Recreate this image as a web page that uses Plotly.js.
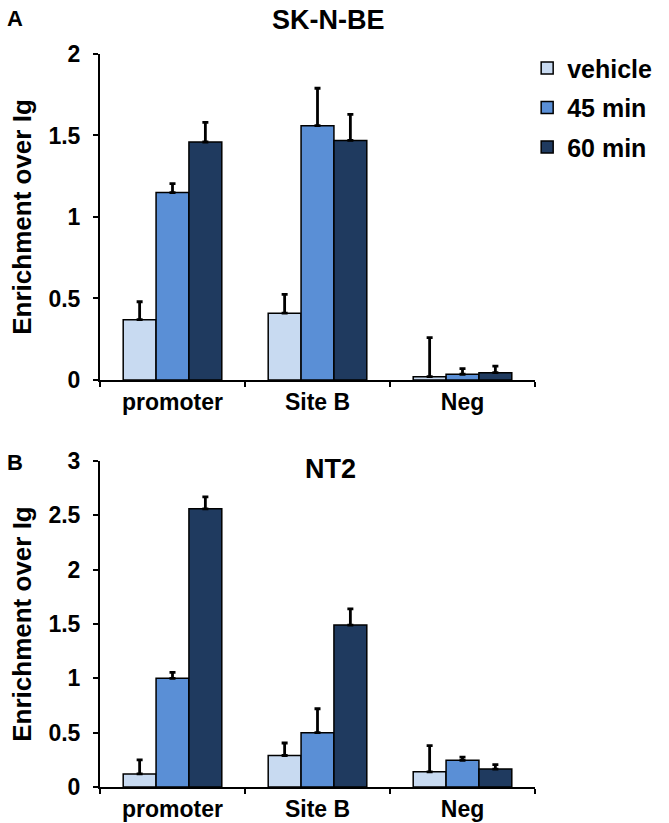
<!DOCTYPE html>
<html>
<head>
<meta charset="utf-8">
<script src="https://cdn.plot.ly/plotly-3.0.1.min.js"></script>
<style>html,body{margin:0;padding:0;background:#fff;}#chart{width:669px;height:823px;}</style>
</head>
<body>
<div id="chart"></div>
<script>
// ---- data ----
const categories = ['promoter', 'Site B', 'Neg'];
const seriesNames = ['vehicle', '45 min', '60 min'];
const seriesColors = ['#c8daf1', '#5a8fd6', '#1f3a5f'];

// Panel A: SK-N-BE
const skVehicle = [0.37, 0.41, 0.02];
const skVehicleErr = [0.11, 0.115, 0.24];
const sk45 = [1.15, 1.56, 0.035];
const sk45Err = [0.055, 0.23, 0.035];
const sk60 = [1.46, 1.47, 0.045];
const sk60Err = [0.12, 0.16, 0.04];

// Panel B: NT2
const ntVehicle = [0.12, 0.29, 0.14];
const ntVehicleErr = [0.13, 0.115, 0.24];
const nt45 = [1.0, 0.5, 0.245];
const nt45Err = [0.055, 0.22, 0.03];
const nt60 = [2.56, 1.49, 0.165];
const nt60Err = [0.11, 0.15, 0.04];

const zeros = [0, 0, 0];
const FONT = '"Liberation Sans", Arial, sans-serif';

const skVals = [skVehicle, sk45, sk60];
const skErrs = [skVehicleErr, sk45Err, sk60Err];
const ntVals = [ntVehicle, nt45, nt60];
const ntErrs = [ntVehicleErr, nt45Err, nt60Err];

const traces = [];
function addPanel(vals, errs, xa, ya, showLegend) {
  for (let i = 0; i < 3; i++) {
    traces.push({
      type: 'bar',
      name: seriesNames[i],
      legendgroup: seriesNames[i],
      showlegend: showLegend,
      x: categories,
      y: vals[i],
      xaxis: xa,
      yaxis: ya,
      marker: {color: seriesColors[i], line: {color: '#000', width: 1.5}},
      error_y: {type: 'data', symmetric: false, array: errs[i], arrayminus: zeros,
                color: '#000', thickness: 2.8, width: 3},
      hoverinfo: 'x+y+name'
    });
  }
}
addPanel(skVals, skErrs, 'x', 'y', true);
addPanel(ntVals, ntErrs, 'x2', 'y2', false);

const tickFont = {family: FONT, size: 23, color: '#000', weight: 'bold'};
const catFont = {family: FONT, size: 23, color: '#000', weight: 'bold'};
const yTitle = {text: 'Enrichment over Ig', font: {family: FONT, size: 26, color: '#000', weight: 'bold'}, standoff: 9};

function xAxis(anchor) {
  return {
    anchor: anchor, type: 'category', showgrid: false, zeroline: false,
    showline: true, linecolor: '#000', linewidth: 2,
    ticks: 'outside', tickson: 'boundaries', ticklen: 5, tickwidth: 2, tickcolor: '#000',
    tickfont: catFont, fixedrange: true, automargin: false
  };
}
function yAxis(anchor, domain, range) {
  return {
    anchor: anchor, domain: domain, range: range, dtick: 0.5, tick0: 0,
    showgrid: false, zeroline: false, showline: true, linecolor: '#000', linewidth: 2,
    ticks: 'outside', ticklen: 5, tickwidth: 2, tickcolor: '#000', ticklabelstandoff: 8,
    tickfont: tickFont, title: yTitle, fixedrange: true, automargin: false
  };
}

const layout = {
  width: 669, height: 823,
  margin: {l: 100, r: 132, t: 54, b: 36},
  paper_bgcolor: '#fff', plot_bgcolor: '#fff',
  barmode: 'group', bargap: 0.32, bargroupgap: 0,
  font: {family: FONT, color: '#000'},
  xaxis: xAxis('y'),
  yaxis: yAxis('x', [0.5553, 1], [0, 2]),
  xaxis2: xAxis('y2'),
  yaxis2: yAxis('x2', [0, 0.4447], [0, 3]),
  showlegend: true,
  legend: {
    x: 0.982, xanchor: 'left', y: 1.012, yanchor: 'top',
    font: {family: FONT, size: 25, color: '#000', weight: 'bold'},
    tracegroupgap: 4, traceorder: 'grouped', bgcolor: 'rgba(0,0,0,0)'
  },
  annotations: [
    {text: 'SK-N-BE', xref: 'paper', yref: 'paper', x: 0.525, y: 1.0, yshift: 34,
     xanchor: 'center', yanchor: 'middle', showarrow: false,
     font: {family: FONT, size: 27, color: '#000', weight: 'bold'}},
    {text: 'NT2', xref: 'paper', yref: 'paper', x: 0.53, y: 0.4447, yshift: -8,
     xanchor: 'center', yanchor: 'middle', showarrow: false,
     font: {family: FONT, size: 27, color: '#000', weight: 'bold'}},
    {text: 'A', xref: 'paper', yref: 'paper', x: 0, xshift: -85, y: 1.0, yshift: 36,
     xanchor: 'center', yanchor: 'middle', showarrow: false,
     font: {family: FONT, size: 22, color: '#000', weight: 'bold'}},
    {text: 'B', xref: 'paper', yref: 'paper', x: 0, xshift: -85, y: 0.4447, yshift: -1,
     xanchor: 'center', yanchor: 'middle', showarrow: false,
     font: {family: FONT, size: 22, color: '#000', weight: 'bold'}}
  ]
};

Plotly.newPlot('chart', traces, layout, {displayModeBar: false, staticPlot: true});
</script>
</body>
</html>
